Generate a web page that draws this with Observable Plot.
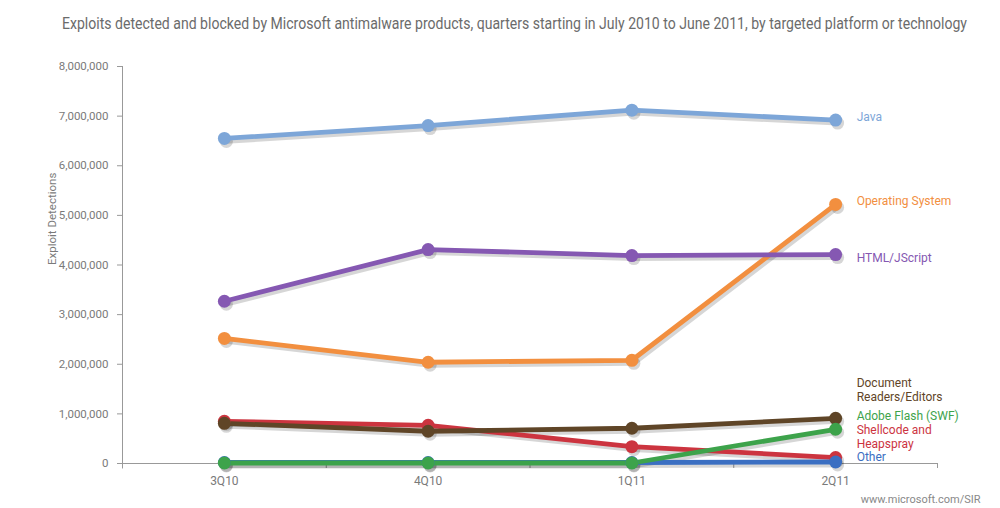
<!DOCTYPE html>
<html>
<head>
<meta charset="utf-8">
<script src="https://cdn.jsdelivr.net/npm/d3@7"></script>
<script src="https://cdn.jsdelivr.net/npm/@observablehq/plot@0.6"></script>
<style>
  html, body { margin: 0; padding: 0; background: #fff; }
  body { width: 1000px; height: 508px; overflow: hidden; font-family: Roboto, "Noto Sans", sans-serif; }
  #title { height: 40px; position: relative; }
  #title span { position: absolute; left: 62px; top: 14px; font-size: 16.5px; color: #6b6b6b; white-space: nowrap; transform-origin: 0 50%; }
</style>
</head>
<body>
<div id="title"><span id="tt">Exploits detected and blocked by Microsoft antimalware products, quarters starting in July 2010 to June 2011, by targeted platform or technology</span></div>
<div id="chart"></div>
<script>
const quarters = ["3Q10", "4Q10", "1Q11", "2Q11"];
const yTicks = [0, 1000000, 2000000, 3000000, 4000000, 5000000, 6000000, 7000000, 8000000];

const seriesNames = ["Java", "Operating System", "HTML/JScript", "Shellcode and Heapspray", "Document Readers/Editors", "Other", "Adobe Flash (SWF)"];
const seriesColors = ["#7da6d8", "#f28f3f", "#8558b2", "#cc343f", "#5f4527", "#3b6fc2", "#3da34b"];

const java      = [6550000, 6810000, 7120000, 6920000];
const os        = [2520000, 2040000, 2080000, 5220000];
const html      = [3270000, 4310000, 4190000, 4210000];
const shellcode = [850000, 770000, 340000, 120000];
const docs      = [810000, 650000, 710000, 910000];
const other     = [20000, 20000, 20000, 30000];
const flash     = [10000, 10000, 10000, 690000];

const seriesValues = [java, os, html, shellcode, docs, other, flash];

// right-side labels (first line placed at labelY)
const labelTexts = ["Java", "Operating System", "HTML/JScript", "Document\nReaders/Editors", "Adobe Flash (SWF)", "Shellcode and\nHeapspray", "Other"];
const labelColors = ["#7da6d8", "#f28f3f", "#8558b2", "#5f4527", "#3da34b", "#cc343f", "#3b6fc2"];
const labelY = [6960000, 5260000, 4130000, 1600000, 940000, 650000, 110000];

const data = [];
seriesNames.forEach((name, s) => {
  seriesValues[s].forEach((v, i) => data.push({series: name, q: i, value: v}));
});

const labels = labelTexts.map((t, k) => ({text: t, y: labelY[k], color: labelColors[k]}));

const fontFam = 'Roboto, "Noto Sans", sans-serif';

const chart = Plot.plot({
  width: 1000,
  height: 468,
  marginLeft: 122,
  marginRight: 63,
  marginTop: 26,
  marginBottom: 45,
  style: {fontFamily: fontFam, fontSize: "12px", color: "#7a7a7a", background: "#fff"},
  x: {domain: [-0.5, 3.5], axis: null, label: null},
  y: {domain: [0, 8000000], axis: null, label: null},
  color: {domain: seriesNames, range: seriesColors},
  marks: [
    // axes
    Plot.axisY(yTicks, {tickSize: 5, tickPadding: 9, tickFormat: d3.format(","), stroke: "#999", fill: "#7a7a7a", fontSize: 11.5, label: null}),
    Plot.axisX([0, 1, 2, 3], {tickSize: 0, tickPadding: 13, tickFormat: i => quarters[i], fill: "#7a7a7a", fontSize: 12, label: null}),
    Plot.axisX([0.5, 1.5, 2.5, 3.5], {tickSize: 5, tickFormat: () => "", stroke: "#999", label: null}),
    Plot.ruleX([-0.5], {y1: -110000, y2: 8000000, stroke: "#999"}),
    Plot.ruleY([0], {x1: -0.5, x2: 3.5, stroke: "#999"}),
    Plot.text(["Exploit Detections"], {frameAnchor: "left", dx: -70, rotate: -90, fill: "#7a7a7a", fontSize: 11.5}),
    // shadows
    Plot.line(data, {x: "q", y: "value", z: "series", stroke: "#000", strokeWidth: 4.8, strokeOpacity: 0.16, dx: 2, dy: 3}),
    Plot.dot(data, {x: "q", y: "value", r: 6.5, fill: "#000", fillOpacity: 0.16, dx: 2, dy: 3}),
    // series
    Plot.line(data, {x: "q", y: "value", z: "series", stroke: "series", strokeWidth: 4.8}),
    Plot.dot(data, {x: "q", y: "value", r: 6.5, fill: "series"}),
    // right labels
    Plot.text(labels, {x: 3, y: "y", text: "text", fill: "color", dx: 21, dy: -7, lineAnchor: "top", lineHeight: 1.17, textAnchor: "start", fontSize: 12}),
    // footer
    Plot.text(["www.microsoft.com/SIR"], {frameAnchor: "bottom-right", dx: 43, dy: 39, textAnchor: "end", fill: "#888", fontSize: 11})
  ]
});
document.getElementById("chart").appendChild(chart);

const tt = document.getElementById("tt");
const w = tt.getBoundingClientRect().width;
tt.style.transform = "scaleX(" + (905 / w) + ")";
</script>
</body>
</html>
